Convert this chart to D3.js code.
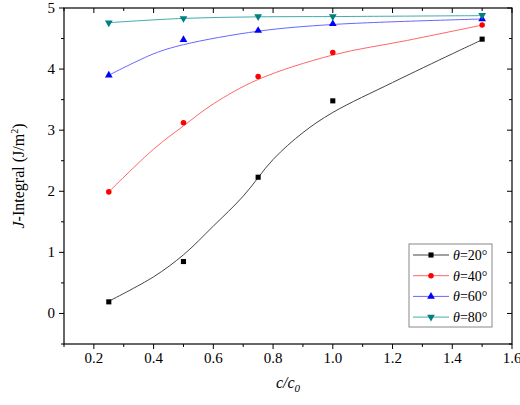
<!DOCTYPE html><html><head><meta charset="utf-8">
<script src="https://cdn.jsdelivr.net/npm/d3@7"></script>
<style>body{margin:0;background:#fff}svg{font-family:"Liberation Serif","Times New Roman",serif}</style></head><body>
<svg id="c" width="520" height="405"></svg>
<script>
const xs = [0.25, 0.5, 0.75, 1.0, 1.5];
const labels = ["θ=20°","θ=40°","θ=60°","θ=80°"];
const colors = ["#000000","#ff0000","#0000ff","#008080"];
const lineColors = ["#444444","#ff6666","#6666ff","#44aaaa"];
const s20 = [0.19, 0.85, 2.23, 3.48, 4.49];
const s40 = [1.99, 3.12, 3.88, 4.27, 4.72];
const s60 = [3.90, 4.48, 4.63, 4.74, 4.82];
const s80 = [4.76, 4.83, 4.86, 4.86, 4.88];
const f20x = [0.25,0.4,0.5,0.6,0.7,0.8,0.9,1.0,1.2,1.4,1.5];
const f20y = [0.20,0.60,0.96,1.43,1.92,2.52,2.96,3.29,3.78,4.25,4.48];
const f40x = [0.25,0.4,0.5,0.6,0.75,1.0,1.25,1.5];
const f40y = [1.99,2.69,3.07,3.43,3.83,4.23,4.47,4.72];
const f60x = [0.25,0.4,0.5,0.75,1.0,1.5];
const f60y = [3.90,4.25,4.40,4.62,4.73,4.82];
const f80x = [0.25,0.5,0.75,1.0,1.5];
const f80y = [4.76,4.83,4.855,4.86,4.875];
const xTicks = [0.2,0.4,0.6,0.8,1.0,1.2,1.4,1.6];
const yTicks = [0,1,2,3,4,5];

const series=[s20,s40,s60,s80];
const fits=[[f20x,f20y],[f40x,f40y],[f60x,f60y],[f80x,f80y]];
const L=64,R=512,T=8,B=344;
const svg=d3.select("#c");
const x=d3.scaleLinear().domain([0.1,1.6]).range([L,R]);
const y=d3.scaleLinear().domain([-0.5,5]).range([B,T]);
const g=svg.append("g");
const xMinor=d3.range(0.1,1.61,0.1), yMinor=d3.range(-0.5,5.01,0.5);
const tk=(x1,y1,x2,y2)=>g.append("line").attr("x1",x1).attr("y1",y1).attr("x2",x2).attr("y2",y2).attr("stroke","#000").attr("stroke-width",1);
xMinor.forEach(v=>{const maj=xTicks.some(t=>Math.abs(t-v)<1e-6);const l=maj?5:3;tk(x(v),B,x(v),B+l);tk(x(v),T,x(v),T+l);});
yMinor.forEach(v=>{const maj=yTicks.some(t=>Math.abs(t-v)<1e-6);const l=maj?5:3;tk(L,y(v),L-l,y(v));tk(R,y(v),R-l,y(v));});
g.append("rect").attr("x",L).attr("y",T).attr("width",R-L).attr("height",B-T).attr("fill","none").attr("stroke","#000").attr("stroke-width",1.2);
xTicks.forEach(v=>g.append("text").attr("x",x(v)).attr("y",B+19).attr("text-anchor","middle").attr("font-size",15).text(d3.format(".1f")(v)));
yTicks.forEach(v=>g.append("text").attr("x",L-9).attr("y",y(v)+5).attr("text-anchor","end").attr("font-size",15).text(v));
const xl=svg.append("text").attr("x",(L+R)/2).attr("y",388).attr("text-anchor","middle").attr("font-size",16).attr("font-style","italic");
xl.append("tspan").text("c/c");xl.append("tspan").attr("font-size",11).attr("dy",4).text("0");
const yl=svg.append("text").attr("transform",`translate(24,${(T+B)/2}) rotate(-90)`).attr("text-anchor","middle").attr("font-size",16);
yl.append("tspan").attr("font-style","italic").text("J");yl.append("tspan").text("-Integral (J/m");
yl.append("tspan").attr("font-size",10).attr("dy",-6).text("2");yl.append("tspan").attr("dy",6).text(")");
const line=d3.line().x(d=>x(d[0])).y(d=>y(d[1])).curve(d3.curveCatmullRom.alpha(0.5));
const sym=[d3.symbolSquare,d3.symbolCircle,d3.symbolTriangle,d3.symbolTriangle];
const drawSym=(sel,i,cx,cy)=>sel.append("path").attr("d",d3.symbol().type(sym[i]).size(i==1?24:26)()).attr("transform",`translate(${cx},${cy})`+(i==3?" rotate(180)":"")).attr("fill",colors[i]);
fits.forEach((f,i)=>{
  g.append("path").datum(f[0].map((v,k)=>[v,f[1][k]])).attr("d",line).attr("fill","none").attr("stroke",lineColors[i]).attr("stroke-width",1);
  series[i].forEach((v,k)=>drawSym(g,i,x(xs[k]),y(v)));
});
const lg=svg.append("g");
lg.append("rect").attr("x",409).attr("y",244).attr("width",83).attr("height",83).attr("fill","#fff").attr("stroke","#888").attr("stroke-width",1);
labels.forEach((t,i)=>{const yy=255+i*20.7;
  lg.append("line").attr("x1",413).attr("x2",449).attr("y1",yy).attr("y2",yy).attr("stroke",lineColors[i]);
  drawSym(lg,i,431,yy);
  const tx=lg.append("text").attr("x",453).attr("y",yy+5).attr("font-size",14);
  tx.append("tspan").attr("font-style","italic").text("θ");tx.append("tspan").text(t.slice(1));
});
</script></body></html>
